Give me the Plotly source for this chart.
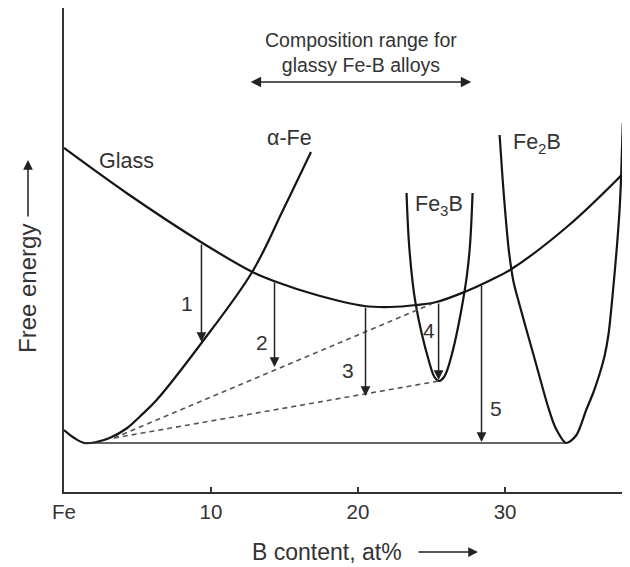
import plotly.graph_objects as go

# ---- data (x: B content at%, y: free energy, arbitrary units) ----
glass_x = [0, 4.25, 9.42, 12.82, 14.46, 17.18, 20.44, 22.2, 23.98, 25.34, 27.24, 28.9, 30.44, 34.2, 37.93, 38.5]
glass_y = [344, 299, 249, 220, 210, 197, 186, 185, 187, 190, 200, 211, 223, 265, 317, 326]

afe_x = [0, 0.7, 1.4, 2.2, 3.1, 4.3, 5.2, 6.3, 9.3, 12.8, 14.9, 16.8]
afe_y = [62, 54, 49, 50, 54, 64, 76, 92, 148, 220, 282, 340]

fe3b_x = [23.30, 23.50, 23.91, 24.86, 25.2, 25.5, 25.85, 26.22, 27.24, 27.59, 27.79]
fe3b_y = [299, 242, 189, 129, 115, 111, 115, 129, 200, 242, 299]

fe2b_x = [29.63, 29.83, 30.03, 30.27, 30.58, 30.99, 31.46, 31.94, 32.41, 32.89, 33.44, 34.16,
          34.86, 35.52, 36.02, 36.43, 36.77, 37.04, 37.31, 37.59, 37.79, 37.90, 38.01]
fe2b_y = [357, 314, 277, 240, 210, 187, 162, 137, 112, 87, 64, 49,
          57, 82, 100, 118, 136, 158, 196, 242, 282, 317, 369]

tangent_x = [1.4, 34.16]
tangent_y = [49, 49]

dash_upper_x = [3.4, 25.0]
dash_upper_y = [54, 188]
dash_lower_x = [3.4, 25.5]
dash_lower_y = [54, 111]

arrow_x = [9.35, 14.32, 20.51, 25.48, 28.40]
arrow_top = [249, 211, 186, 190, 208]
arrow_tip = [150, 125, 96, 112, 50]
arrow_labels = ["1", "2", "3", "4", "5"]
arrow_label_x = [8.4, 13.44, 19.35, 24.8, 29.4]
arrow_label_y = [189, 150, 122, 162, 84]

curve_labels = ["Glass", "α-Fe", "Fe<sub>3</sub>B", "Fe<sub>2</sub>B"]
curve_label_x = [4.25, 15.34, 25.48, 32.2]
curve_label_y = [331, 354, 287, 349]

range_x = [12.6, 27.7]
range_y = 410
range_text = "Composition range for<br>glassy Fe-B alloys"

tick_vals = [0, 10, 20, 30]
tick_text = ["Fe", "10", "20", "30"]

FONT = "Liberation Sans, Arial, sans-serif"
TXT = "#333333"
LINE = "#151515"

fig = go.Figure()

def curve(x, y, smooth=1.0):
    fig.add_trace(go.Scatter(x=x, y=y, mode="lines",
                             line=dict(color=LINE, width=2.2, shape="spline", smoothing=smooth),
                             hoverinfo="skip", showlegend=False))

curve(glass_x, glass_y)
curve(afe_x, afe_y)
curve(fe3b_x, fe3b_y)
curve(fe2b_x, fe2b_y, 0.8)

fig.add_trace(go.Scatter(x=tangent_x, y=tangent_y, mode="lines",
                         line=dict(color="#333333", width=1.6), showlegend=False, hoverinfo="skip"))
for dx, dy in [(dash_upper_x, dash_upper_y), (dash_lower_x, dash_lower_y)]:
    fig.add_trace(go.Scatter(x=dx, y=dy, mode="lines",
                             line=dict(color="#555555", width=1.6, dash="5px,4px"),
                             showlegend=False, hoverinfo="skip"))

annotations = []
for xa, top, tip in zip(arrow_x, arrow_top, arrow_tip):
    annotations.append(dict(x=xa, y=tip, ax=xa, ay=top, xref="x", yref="y", axref="x", ayref="y",
                            showarrow=True, arrowhead=2, arrowsize=1.3, arrowwidth=1.5,
                            arrowcolor="#222222", standoff=0, text=""))
for t, lx, ly in zip(arrow_labels, arrow_label_x, arrow_label_y):
    annotations.append(dict(x=lx, y=ly, xref="x", yref="y", text=t, showarrow=False,
                            xanchor="center", yanchor="middle",
                            font=dict(family=FONT, size=21, color=TXT)))
for t, lx, ly in zip(curve_labels, curve_label_x, curve_label_y):
    annotations.append(dict(x=lx, y=ly, xref="x", yref="y", text=t, showarrow=False,
                            xanchor="center", yanchor="middle",
                            font=dict(family=FONT, size=21.5, color=TXT)))

# composition range
annotations.append(dict(x=sum(range_x) / 2 + 0.05, y=range_y + 30, xref="x", yref="y", text=range_text,
                        showarrow=False, xanchor="center", yanchor="middle",
                        font=dict(family=FONT, size=19.5, color=TXT)))
annotations.append(dict(x=range_x[1], y=range_y, ax=range_x[0], ay=range_y, xref="x", yref="y",
                        axref="x", ayref="y", showarrow=True, arrowhead=2, arrowside="end+start",
                        arrowsize=1.3, arrowwidth=1.6, arrowcolor="#222222", text="", standoff=0, startstandoff=0))

# axis titles (paper coords; page-pixel helpers)
W, H = 566.0, 484.0
def px(xp):
    return (xp - 64) / W
def py(yp):
    return (492 - yp) / H

annotations.append(dict(x=px(327), y=py(552), xref="paper", yref="paper", text="B content, at%",
                        xanchor="center", yanchor="middle",
                        showarrow=False, font=dict(family=FONT, size=23, color=TXT)))
annotations.append(dict(x=px(478), y=py(552), xref="paper", yref="paper", ax=-61, ay=0, text="",
                        showarrow=True, arrowhead=2, arrowsize=1.3, arrowwidth=1.5, arrowcolor="#222222"))
annotations.append(dict(x=px(27), y=py(288), xref="paper", yref="paper", text="Free energy",
                        textangle=-90, xanchor="center", yanchor="middle",
                        showarrow=False, font=dict(family=FONT, size=24, color=TXT)))
annotations.append(dict(x=px(28), y=py(160), xref="paper", yref="paper", ax=0, ay=58, text="",
                        showarrow=True, arrowhead=2, arrowsize=1.3, arrowwidth=1.5, arrowcolor="#222222"))

# page body has an 8px margin: shrink the figure so it fits the 630x567 window
fig.update_layout(
    width=622, height=559,
    margin=dict(l=56, r=0, t=0, b=75),
    paper_bgcolor="white", plot_bgcolor="white",
    annotations=annotations,
    xaxis=dict(range=[0, 38.5], showgrid=False, zeroline=False, showline=True, linewidth=2,
               linecolor="#333333", tickvals=tick_vals, ticktext=tick_text, ticks="inside",
               ticklen=5, tickwidth=1.5, tickcolor="#333333", ticklabelstandoff=0,
               tickfont=dict(family=FONT, size=20.5, color=TXT)),
    yaxis=dict(range=[0, 484], showgrid=False, zeroline=False, showline=True, linewidth=2,
               linecolor="#333333", showticklabels=False, ticks=""),
)

fig.write_html("out.html")
